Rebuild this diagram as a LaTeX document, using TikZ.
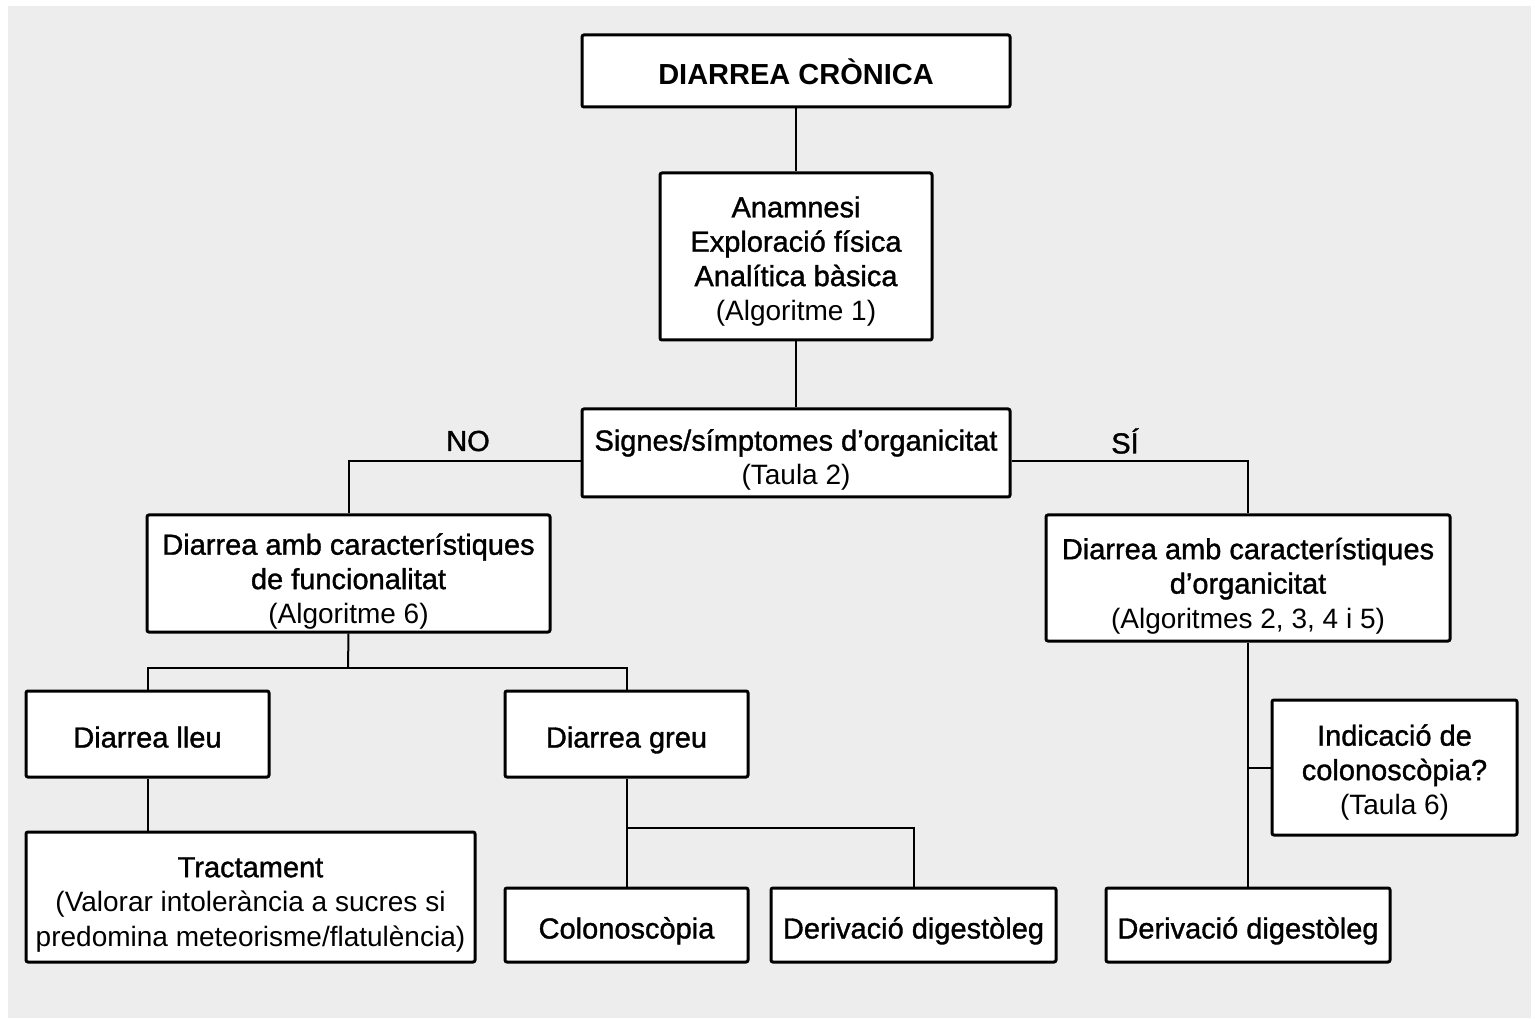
\documentclass[tikz,border=0pt]{standalone}
\usepackage{fontspec}
\setmainfont{Liberation Sans}
\newfontfamily\mitjana{Liberation Sans}[FakeBold=1.2]
\definecolor{fons}{HTML}{EDEDED}
\newcommand{\nota}[1]{{\normalfont\fontsize{14}{17}\selectfont #1}}
\tikzset{
  caixa/.style = {draw=black, fill=white, line width=1.5pt, rounded corners=1pt,
    align=center, inner sep=0pt, text centered, text depth=3pt,
    font=\mitjana\fontsize{14.5}{17.2}\selectfont},% caixa general
  caixa_u/.style = {caixa, text height=16.5pt},% una sola linia
  caixa_t/.style = {caixa_u, font=\bfseries\fontsize{14.5}{17}\selectfont},% titol
  branca/.style = {draw=black, line width=1pt},% linia
  etiq/.style = {inner sep=0pt, font=\mitjana\fontsize{14.5}{17}\selectfont}% NO / SI
}
\begin{document}
\begin{tikzpicture}[x=0.5pt, y=-0.5pt]
\useasboundingbox (0,0) rectangle (1535,1020);
\fill[fons] (8,6) rectangle (1531,1018);

\node [caixa_t, minimum width=214pt, minimum height=36pt] (cronica) at (796,71) {DIARREA CRÒNICA};
\node [caixa, text height=67pt, minimum width=136pt, minimum height=83.5pt] (anamnesi) at (796,256.5)
  {Anamnesi\\Exploració física\\Analítica bàsica\\\nota{(Algoritme 1)}};
\node [caixa, text height=35pt, minimum width=214pt, minimum height=44pt] (signes) at (796,453)
  {Signes/símptomes d’organicitat\\\nota{(Taula 2)}};
\node [caixa, text height=53pt, minimum width=201.5pt, minimum height=58.5pt] (funcio) at (348.5,573.5)
  {Diarrea amb característiques\\de funcionalitat\\\nota{(Algoritme 6)}};
\node [caixa, text height=53pt, minimum width=202pt, minimum height=63pt] (organic) at (1248,578)
  {Diarrea amb característiques\\d’organicitat\\\nota{(Algoritmes 2, 3, 4 i 5)}};
\node [caixa_u, minimum width=121.5pt, minimum height=43pt] (lleu) at (147.5,734) {Diarrea lleu};
\node [caixa_u, minimum width=121.5pt, minimum height=43pt] (greu) at (626.5,734) {Diarrea greu};
\node [caixa, text height=52pt, minimum width=224.5pt, minimum height=65pt] (tract) at (250.5,897)
  {Tractament\\\nota{(Valorar intolerància a sucres si}\\\nota{predomina meteorisme/flatulència)}};
\node [caixa_u, minimum width=121.5pt, minimum height=37pt] (colono) at (626.5,925) {Colonoscòpia};
\node [caixa_u, minimum width=142.5pt, minimum height=37pt] (deriv_a) at (913.5,925) {Derivació digestòleg};
\node [caixa_u, minimum width=142pt, minimum height=37pt] (deriv_b) at (1248,925) {Derivació digestòleg};
\node [caixa, text height=50pt, minimum width=122.5pt, minimum height=67.5pt] (indica) at (1394.5,767.5)
  {Indicació de\\colonoscòpia?\\\nota{(Taula 6)}};

\node [etiq] (no) at (468,441) {NO};
\node [etiq] (si) at (1125,441) {SÍ};

\coordinate (fsplit) at (348,668);
\coordinate (gsplit) at (626.5,828);

\draw [branca] (cronica) -- (anamnesi);
\draw [branca] (anamnesi) -- (signes);
\draw [branca] ([yshift=-4pt]signes.west) -| (funcio.north);
\draw [branca] ([yshift=-4pt]signes.east) -| (organic.north);
\draw [branca] (funcio.south) -- (fsplit);
\draw [branca] (lleu.north) |- (fsplit) -| (greu.north);
\draw [branca] (lleu.south) -- (lleu.south |- tract.north);
\draw [branca] (greu.south) -- (colono.north);
\draw [branca] (gsplit) -| (deriv_a.north);
\draw [branca] (organic.south) -- (deriv_b.north);
\draw [branca] (organic.south |- indica.west) -- (indica.west);
\end{tikzpicture}
\end{document}
